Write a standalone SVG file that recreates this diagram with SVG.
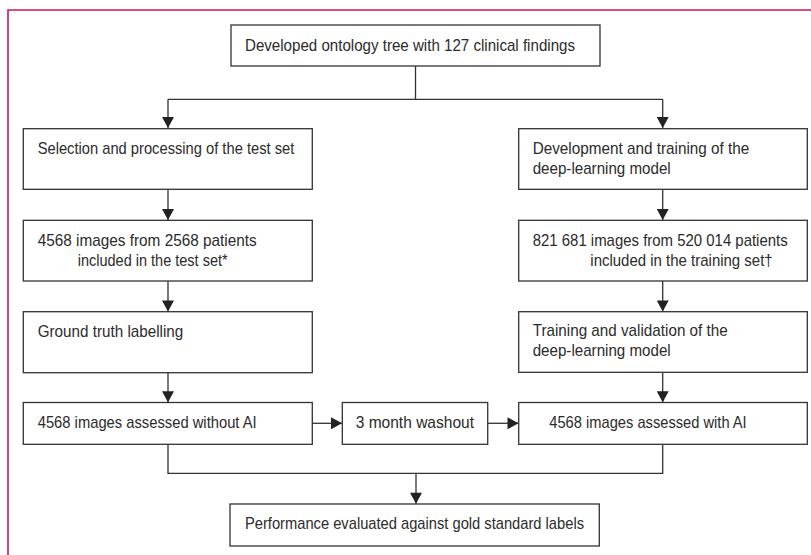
<svg xmlns="http://www.w3.org/2000/svg" width="811" height="555" viewBox="0 0 811 555">
  <style>
    .box { fill: #ffffff; stroke: #333333; stroke-width: 1.3; }
    .conn { fill: none; stroke: #333333; stroke-width: 1.3; }
    .t { font-family: "Liberation Sans", Arial, sans-serif; font-size: 16.2px; fill: #2b2b2b; }
    .frame { fill: none; stroke: #d0144f; stroke-width: 1.6; }
  </style>
  <defs>
    <marker id="arr" markerUnits="userSpaceOnUse" markerWidth="12" markerHeight="12" viewBox="0 0 11 12" refX="11" refY="6" orient="auto">
      <path d="M0,0 L11,6 L0,12 Z" fill="#222222"/>
    </marker>
  </defs>
  <rect x="0" y="0" width="811" height="555" fill="#ffffff"/>
  <path class="frame" d="M8,555 V10 H811"/>

  <g id="connectors">
    <path class="conn" d="M415.5,66 V99.3 M168,99.3 H662.7"/>
    <path class="conn" d="M168,99.3 V128" marker-end="url(#arr)"/>
    <path class="conn" d="M662.7,99.3 V128" marker-end="url(#arr)"/>
    <path class="conn" d="M168,189.3 V220" marker-end="url(#arr)"/>
    <path class="conn" d="M662.7,189.3 V220" marker-end="url(#arr)"/>
    <path class="conn" d="M168,281 V311.5" marker-end="url(#arr)"/>
    <path class="conn" d="M662.7,281 V311.5" marker-end="url(#arr)"/>
    <path class="conn" d="M168,372.7 V402.3" marker-end="url(#arr)"/>
    <path class="conn" d="M662.7,372.3 V402.3" marker-end="url(#arr)"/>
    <path class="conn" d="M312.3,423.3 H342" marker-end="url(#arr)"/>
    <path class="conn" d="M487.7,423.3 H518.5" marker-end="url(#arr)"/>
    <path class="conn" d="M168,444.3 V473.3 H662.7 V444.3"/>
    <path class="conn" d="M416,473.3 V503.7" marker-end="url(#arr)"/>
  </g>

  <g id="n-ontology">
    <rect class="box" x="231" y="25" width="369" height="41"/>
    <text class="t" x="245" y="50.8" textLength="330" lengthAdjust="spacingAndGlyphs">Developed ontology tree with 127 clinical findings</text>
  </g>

  <g id="n-selection">
    <rect class="box" x="23.3" y="128.7" width="289" height="60.6"/>
    <text class="t" x="37.7" y="154" textLength="256.6" lengthAdjust="spacingAndGlyphs">Selection and processing of the test set</text>
  </g>

  <g id="n-development">
    <rect class="box" x="518.7" y="128.7" width="288.6" height="60.6"/>
    <text class="t" x="532.7" y="154" textLength="216.6" lengthAdjust="spacingAndGlyphs">Development and training of the</text>
    <text class="t" x="532.7" y="174" textLength="138" lengthAdjust="spacingAndGlyphs">deep-learning model</text>
  </g>

  <g id="n-testset">
    <rect class="box" x="23.3" y="220.3" width="289" height="60.7"/>
    <text class="t" x="37.7" y="245.7" textLength="219" lengthAdjust="spacingAndGlyphs">4568 images from 2568 patients</text>
    <text class="t" x="77.7" y="265.7" textLength="150" lengthAdjust="spacingAndGlyphs">included in the test set*</text>
  </g>

  <g id="n-trainingset">
    <rect class="box" x="518.7" y="220.3" width="288.6" height="60.7"/>
    <text class="t" x="532.7" y="245.7" textLength="255" lengthAdjust="spacingAndGlyphs">821 681 images from 520 014 patients</text>
    <text class="t" x="590.3" y="265.7" textLength="182.4" lengthAdjust="spacingAndGlyphs">included in the training set†</text>
  </g>

  <g id="n-groundtruth">
    <rect class="box" x="23.3" y="311.7" width="289" height="61"/>
    <text class="t" x="37.7" y="336.5" textLength="145.6" lengthAdjust="spacingAndGlyphs">Ground truth labelling</text>
  </g>

  <g id="n-trainval">
    <rect class="box" x="518.7" y="311.7" width="288.6" height="60.6"/>
    <text class="t" x="532.7" y="336.3" textLength="195" lengthAdjust="spacingAndGlyphs">Training and validation of the</text>
    <text class="t" x="532.7" y="356.3" textLength="138" lengthAdjust="spacingAndGlyphs">deep-learning model</text>
  </g>

  <g id="n-withoutai">
    <rect class="box" x="23.3" y="402.5" width="289" height="41.8"/>
    <text class="t" x="37.7" y="427.5" textLength="219" lengthAdjust="spacingAndGlyphs">4568 images assessed without AI</text>
  </g>

  <g id="n-washout">
    <rect class="box" x="342.3" y="402.5" width="145.4" height="41.8"/>
    <text class="t" x="355.7" y="427.5" textLength="118.3" lengthAdjust="spacingAndGlyphs">3 month washout</text>
  </g>

  <g id="n-withai">
    <rect class="box" x="518.7" y="402.5" width="288.6" height="41.8"/>
    <text class="t" x="549.3" y="427.5" textLength="197.4" lengthAdjust="spacingAndGlyphs">4568 images assessed with AI</text>
  </g>

  <g id="n-performance">
    <rect class="box" x="230" y="504" width="369.3" height="42"/>
    <text class="t" x="245" y="528.8" textLength="339" lengthAdjust="spacingAndGlyphs">Performance evaluated against gold standard labels</text>
  </g>
</svg>
